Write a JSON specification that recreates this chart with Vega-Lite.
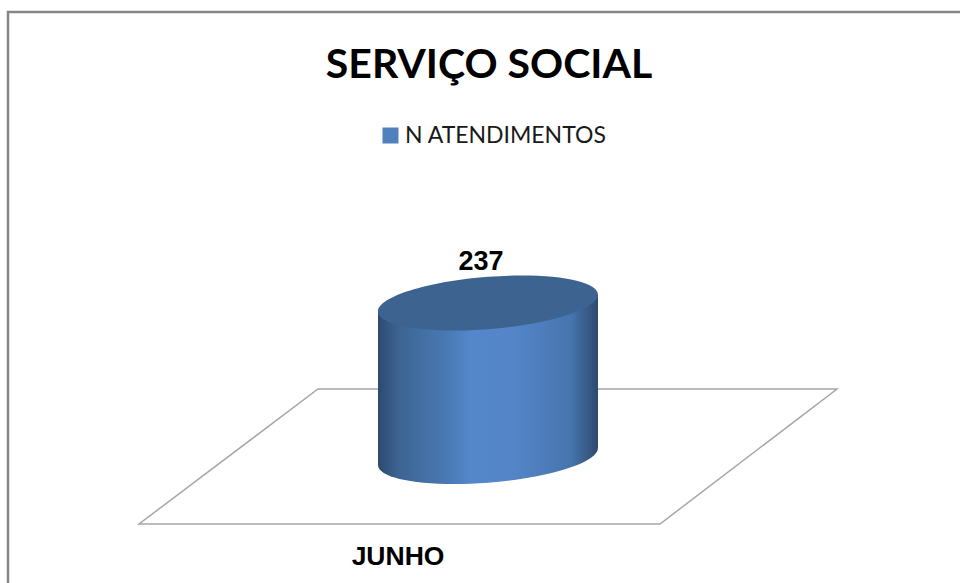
{
  "$schema": "https://vega.github.io/schema/vega-lite/v6.json",
  "autosize": {"type": "none"},
  "padding": {"left": 8, "top": 12, "right": 0, "bottom": 0},
  "width": 960,
  "height": 583,
  "background": "white",
  "view": {"stroke": "#868686", "strokeWidth": 2.5, "fill": "white"},
  "title": {"text": "SERVIÇO SOCIAL", "font": "Lato", "fontWeight": "bold", "fontSize": 41, "color": "#000000", "anchor": "middle", "frame": "group", "offset": -75, "dx": 1},
  "data": {"values": [{"mes": "JUNHO", "serie": "N ATENDIMENTOS", "atendimentos": 237}]},
  "encoding": {
    "x": {"field": "mes", "type": "nominal", "axis": {"title": null, "domain": false, "ticks": false, "grid": false, "labelAngle": 0, "labelFont": "Liberation Sans", "labelFontWeight": "bold", "labelFontSize": 26.5, "labelColor": "#000000", "labelOffset": -90, "labelPadding": 0, "offset": -52}}
  },
  "layer": [
    {
      "mark": {"type": "point", "filled": true, "fill": "#ffffff", "stroke": "#A6A6A6", "strokeWidth": 1.5, "opacity": 1, "size": 4, "shape": "M-170,-69 L349,-69 L172,66 L-349,66 Z"},
      "encoding": {"y": {"datum": 0, "type": "quantitative", "scale": {"domain": [-209.5, 682], "nice": false, "zero": false}, "axis": null}}
    },
    {
      "mark": {"type": "bar", "size": 190},
      "encoding": {
        "y": {"field": "atendimentos", "type": "quantitative", "scale": {"domain": [-209.5, 682], "nice": false, "zero": false}, "axis": null},
        "y2": {"datum": 0},
        "color": {"field": "serie", "type": "nominal", "scale": {"range": ["#4F81BD"]}, "legend": {"title": null, "orient": "none", "legendX": 371, "legendY": 112, "symbolType": "square", "symbolSize": 256, "symbolStrokeWidth": 0, "labelFont": "Lato", "labelFontSize": 23, "labelColor": "#1a1a1a", "labelOffset": 3, "labelLimit": 300}}
      }
    },
    {
      "mark": {"type": "point", "filled": true, "opacity": 1, "size": 4, "strokeWidth": 0,
        "shape": "M110,-8.5 L110,145 C110,159.5 60.75,175 0,179.7 C-60.75,184.4 -110,176.5 -110,162 L-110,8.5 Z",
        "fill": {"x1": 0, "y1": 0, "x2": 1, "y2": 0, "gradient": "linear", "stops": [
          {"offset": 0, "color": "#2E4A6E"},
          {"offset": 0.1, "color": "#3D6594"},
          {"offset": 0.3, "color": "#4878B1"},
          {"offset": 0.42, "color": "#5487CB"},
          {"offset": 0.62, "color": "#5385C7"},
          {"offset": 0.88, "color": "#4674AD"},
          {"offset": 1, "color": "#2E4A6E"}
        ]}},
      "encoding": {"y": {"field": "atendimentos", "type": "quantitative", "scale": {"domain": [-209.5, 682], "nice": false, "zero": false}, "axis": null}}
    },
    {
      "mark": {"type": "point", "filled": true, "opacity": 1, "size": 4, "strokeWidth": 0, "fill": "#3D6491",
        "shape": "M110,-8.5 C110,5.97 60.75,21.51 0,26.2 C-60.75,30.89 -110,22.97 -110,8.5 C-110,-5.97 -60.75,-21.51 0,-26.2 C60.75,-30.89 110,-22.97 110,-8.5 Z"},
      "encoding": {"y": {"field": "atendimentos", "type": "quantitative", "scale": {"domain": [-209.5, 682], "nice": false, "zero": false}, "axis": null}}
    },
    {
      "mark": {"type": "text", "font": "Liberation Sans", "fontWeight": "bold", "fontSize": 27, "color": "#000000", "dx": -7, "dy": -41},
      "encoding": {
        "y": {"field": "atendimentos", "type": "quantitative", "scale": {"domain": [-209.5, 682], "nice": false, "zero": false}, "axis": null},
        "text": {"field": "atendimentos", "type": "quantitative"}
      }
    }
  ]
}
